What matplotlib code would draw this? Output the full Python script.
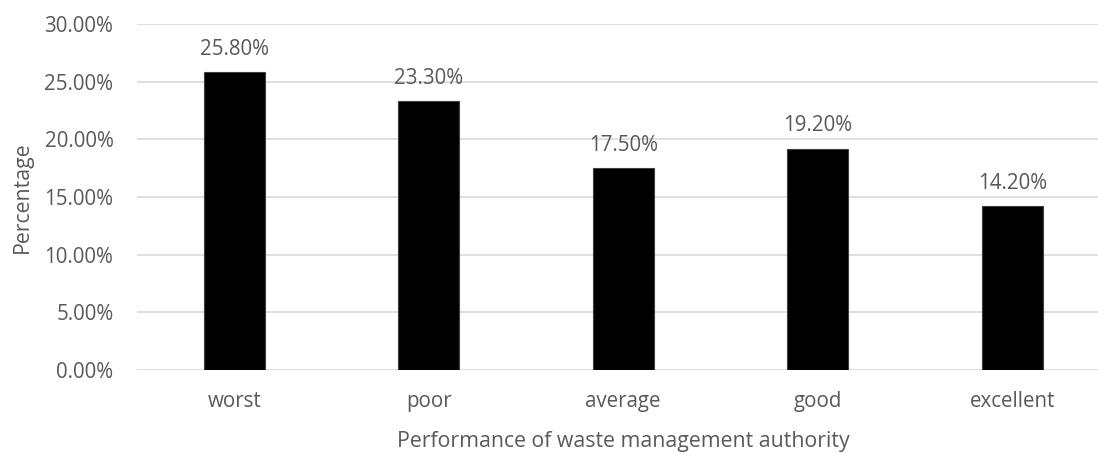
import matplotlib.pyplot as plt
from matplotlib.ticker import FuncFormatter

categories = ['worst', 'poor', 'average', 'good', 'excellent']
values = [25.8, 23.3, 17.5, 19.2, 14.2]

plt.rcParams['font.family'] = ['Open Sans', 'DejaVu Sans']
grey = '#595959'

fig = plt.figure(figsize=(10.98, 4.53), dpi=100)
ax = fig.add_axes([137 / 1098, 1 - 370 / 453, 972.5 / 1098, 346 / 453])

x = range(len(categories))
bars = ax.bar(x, values, width=0.314, color='black', edgecolor='#404040', linewidth=0.8, zorder=3)
ax.bar_label(bars, labels=[f'{v:.2f}%' for v in values], padding=9, color=grey, fontsize=14.8)

ax.set_xlim(-0.5, len(categories) - 0.5)
ax.set_ylim(0, 30)
ax.set_yticks(range(0, 31, 5))
ax.yaxis.set_major_formatter(FuncFormatter(lambda v, p: f'{v:.2f}%'))
ax.set_xticks(list(x))
ax.set_xticklabels(categories)
ax.tick_params(length=0, colors=grey, labelsize=14.8)
ax.tick_params(axis='x', pad=15)
ax.tick_params(axis='y', pad=17)
ax.grid(axis='y', color='#d9d9d9', linewidth=1.2, zorder=0)
for s in ax.spines.values():
    s.set_visible(False)

ax.set_xlabel('Performance of waste management authority', color=grey, fontsize=15.3, labelpad=14)
ax.set_ylabel('Percentage', color=grey, fontsize=15.3, labelpad=8)

fig.savefig('out.png', dpi=100)
